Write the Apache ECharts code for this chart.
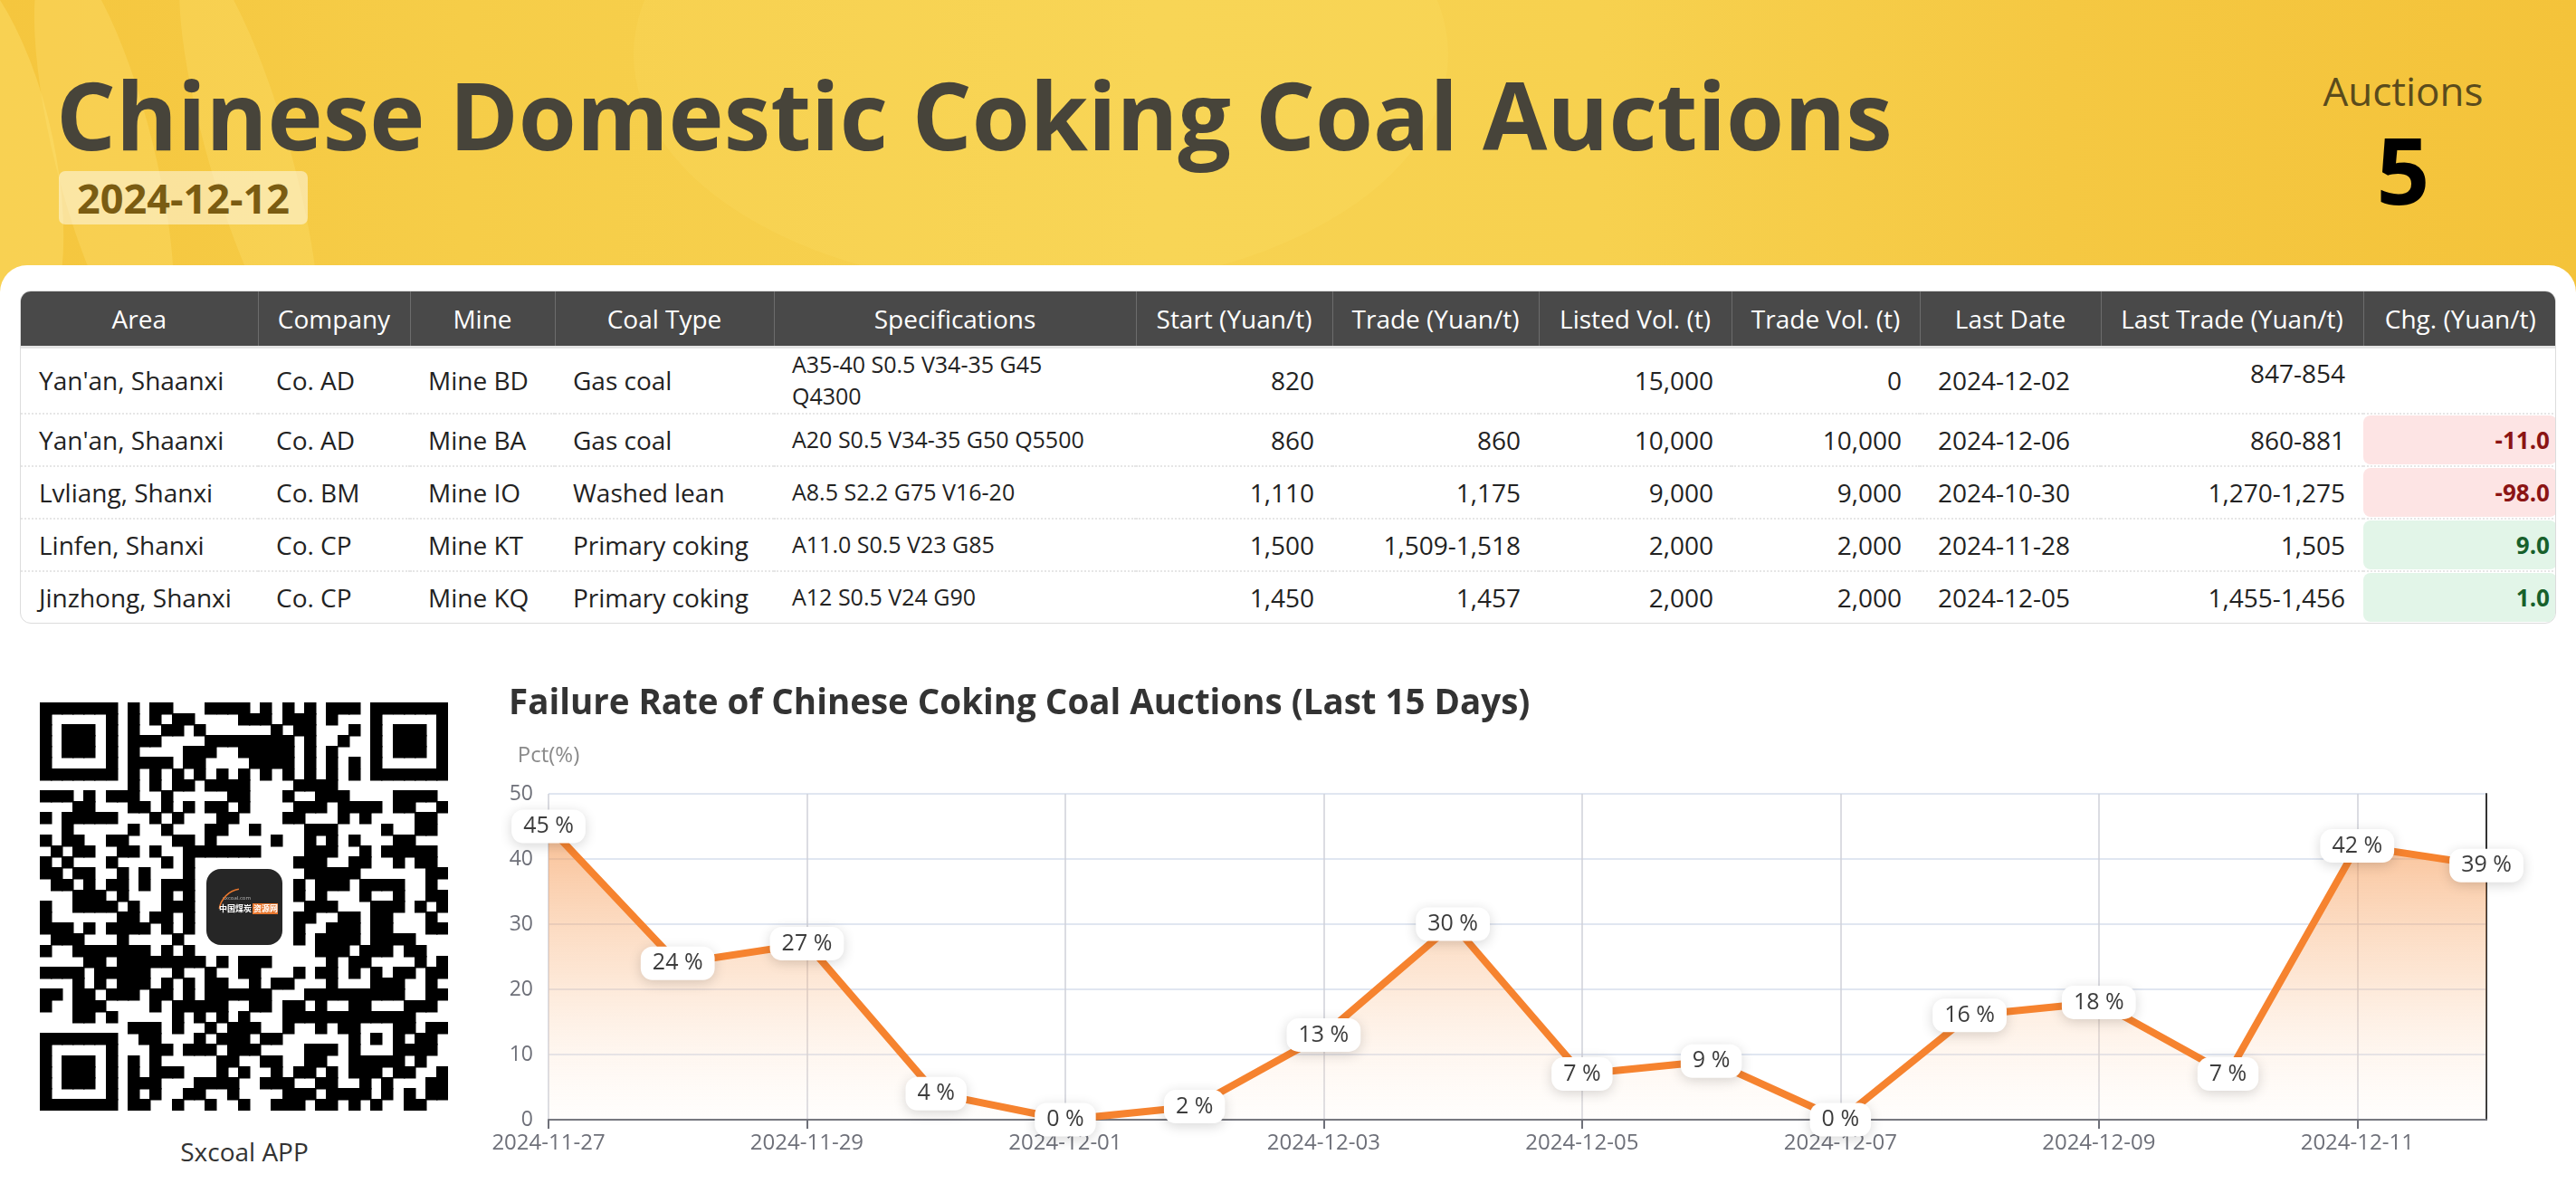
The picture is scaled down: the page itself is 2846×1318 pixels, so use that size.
<!DOCTYPE html>
<html>
<head>
<meta charset="utf-8">
<title>Chinese Domestic Coking Coal Auctions</title>
<script src="https://cdn.jsdelivr.net/npm/echarts/dist/echarts.min.js"></script>
<style>
  html, body { margin:0; padding:0; }
  body { width:2846px; height:1318px; position:relative; overflow:hidden; background:#fff;
         font-family:'Open Sans','Noto Sans',sans-serif; }
  #header { position:absolute; left:0; top:0; width:2846px; height:340px; overflow:hidden;
    background: linear-gradient(90deg, #f5c63e 0%, #f6cd48 18%, #f7d251 45%, #f7d14f 62%, #f5c842 80%, #f4c33a 100%); }
  .streak { position:absolute; top:-60px; height:460px; background:rgba(255,228,120,0.35); border-radius:50%; }
  #card { position:absolute; left:0; top:293px; width:2846px; height:1025px; background:#fff; border-radius:30px 30px 0 0; }
  #title { position:absolute; left:62px; top:74px; font-size:103.5px; font-weight:700; line-height:1; color:#47443a; white-space:nowrap; }
  #dateBadge { position:absolute; left:65px; top:189px; width:275px; height:59px; background:rgba(255,255,255,0.48);
    border-radius:7px; font-size:45px; font-weight:700; color:#7a5c12; line-height:59px; text-align:center; }
  #auctLabel { position:absolute; left:2555px; width:200px; top:78px; font-size:44px; line-height:1; color:#5a4b1c; text-align:center; }
  #auctNum { position:absolute; left:2555px; width:200px; top:135px; font-size:103px; font-weight:700; line-height:1; color:#000; text-align:center; }
  #tbl { position:absolute; left:22px; top:321px; width:2802px; border:1px solid #dcdcdc; border-radius:12px; overflow:hidden;
    box-sizing:border-box; }
  table { border-collapse:collapse; table-layout:fixed; width:100%; }
  th { background:#494949; color:#fff; font-weight:400; font-size:28px; height:60px; border-bottom:3px solid #e4e4e4;
       border-right:1px solid #6c6c6c; padding:0 6px; white-space:nowrap; text-align:center; }
  th:last-child { border-right:none; }
  td { font-size:28px; color:#222; padding:0 20px; white-space:nowrap; border-bottom:2px dotted #e6e6e6; position:relative; }
  tr:last-child td { border-bottom:none; }
  td.num { text-align:right; }
  td.spec { font-size:25px; line-height:35px; white-space:normal; }
  td.chg { padding:0; }
  .chgbox { position:absolute; left:0; right:0; top:1px; bottom:1px; border-radius:8px; font-weight:700; font-size:26px;
            display:flex; align-items:center; justify-content:flex-end; padding-right:8px; }
  .neg { background:#fde4e4; color:#8b1414; }
  .pos { background:#e2f5e8; color:#17602b; }
  #qr { position:absolute; left:44px; top:776px; }
  #qrLabel { position:absolute; left:120px; width:300px; top:1258px; font-size:28px; line-height:1; color:#333; text-align:center; }
  #chart { position:absolute; left:520px; top:730px; width:2326px; height:588px; }
</style>
</head>
<body>
<div id="header">
  <div class="streak" style="left:-120px; width:180px; transform:rotate(-12deg);"></div>
  <div class="streak" style="left:60px; width:110px; transform:rotate(-14deg); background:rgba(255,230,125,0.28);"></div>
  <div class="streak" style="left:230px; width:90px; transform:rotate(-16deg); background:rgba(255,230,125,0.25);"></div>
  <div class="streak" style="left:700px; top:-200px; width:900px; height:520px; background:rgba(255,225,110,0.18);"></div>
</div>
<div id="card"></div>
<div id="title">Chinese Domestic Coking Coal Auctions</div>
<div id="dateBadge"></div>
<div id="auctLabel">Auctions</div>
<div id="auctNum"></div>
<div id="tbl"><table id="auctionTable"></table></div>
<canvas id="qr" width="451" height="451"></canvas>
<div id="qrLabel">Sxcoal APP</div>
<div id="chart"></div>

<script>
// ---------------- DATA ----------------
const reportDate = '2024-12-12';
const auctionCount = 5;

const tableHeaders = ['Area','Company','Mine','Coal Type','Specifications','Start (Yuan/t)','Trade (Yuan/t)',
  'Listed Vol. (t)','Trade Vol. (t)','Last Date','Last Trade (Yuan/t)','Chg. (Yuan/t)'];
const areas      = ["Yan'an, Shaanxi","Yan'an, Shaanxi",'Lvliang, Shanxi','Linfen, Shanxi','Jinzhong, Shanxi'];
const companies  = ['Co. AD','Co. AD','Co. BM','Co. CP','Co. CP'];
const mines      = ['Mine BD','Mine BA','Mine IO','Mine KT','Mine KQ'];
const coalTypes  = ['Gas coal','Gas coal','Washed lean','Primary coking','Primary coking'];
const specs      = ['A35-40 S0.5 V34-35 G45|Q4300','A20 S0.5 V34-35 G50 Q5500','A8.5 S2.2 G75 V16-20','A11.0 S0.5 V23 G85','A12 S0.5 V24 G90'];
const startPrices= ['820','860','1,110','1,500','1,450'];
const tradePrices= ['','860','1,175','1,509-1,518','1,457'];
const listedVols = ['15,000','10,000','9,000','2,000','2,000'];
const tradeVols  = ['0','10,000','9,000','2,000','2,000'];
const lastDates  = ['2024-12-02','2024-12-06','2024-10-30','2024-11-28','2024-12-05'];
const lastTrades = ['847-854','860-881','1,270-1,275','1,505','1,455-1,456'];
const changes    = [null,-11.0,-98.0,9.0,1.0];

const dates = ['2024-11-27','2024-11-28','2024-11-29','2024-11-30','2024-12-01','2024-12-02','2024-12-03','2024-12-04',
               '2024-12-05','2024-12-06','2024-12-07','2024-12-08','2024-12-09','2024-12-10','2024-12-11','2024-12-12'];
const failureRate = [45,24,27,4,0,2,13,30,7,9,0,16,18,7,42,39];

// ---------------- HEADER ----------------
document.getElementById('dateBadge').textContent = reportDate;
document.getElementById('auctNum').textContent = String(auctionCount);

// ---------------- TABLE ----------------
const colWidths = [262,168,160,242,400,217,228,213,208,200,290,214];
const rowHeights = [73,58,58,58,57];
const tbl = document.getElementById('auctionTable');
let html = '<colgroup>' + colWidths.map(w => '<col style="width:' + w + 'px">').join('') + '</colgroup>';
html += '<tr>' + tableHeaders.map(h => '<th>' + h + '</th>').join('') + '</tr>';
for (let i = 0; i < areas.length; i++) {
  const h = rowHeights[i];
  const ch = changes[i];
  let chgHtml = '';
  if (ch !== null) {
    chgHtml = '<div class="chgbox ' + (ch < 0 ? 'neg' : 'pos') + '">' + ch.toFixed(1) + '</div>';
  }
  const lt = i === 0 ? '<span style="position:relative; top:-8px;">' + lastTrades[i] + '</span>' : lastTrades[i];
  html += '<tr style="height:' + h + 'px">' +
    '<td>' + areas[i] + '</td>' +
    '<td>' + companies[i] + '</td>' +
    '<td>' + mines[i] + '</td>' +
    '<td>' + coalTypes[i] + '</td>' +
    '<td class="spec">' + specs[i].split('|').join('<br>') + '</td>' +
    '<td class="num">' + startPrices[i] + '</td>' +
    '<td class="num">' + tradePrices[i] + '</td>' +
    '<td class="num">' + listedVols[i] + '</td>' +
    '<td class="num">' + tradeVols[i] + '</td>' +
    '<td>' + lastDates[i] + '</td>' +
    '<td class="num">' + lt + '</td>' +
    '<td class="chg">' + chgHtml + '</td>' +
    '</tr>';
}
tbl.innerHTML = html;

// ---------------- QR (decorative) ----------------
(function drawQR() {
  const cv = document.getElementById('qr');
  const ctx = cv.getContext('2d');
  const N = 37, S = 451 / N;
  ctx.fillStyle = '#fff'; ctx.fillRect(0, 0, 451, 451);
  function hashBit(r, c) {
    let x = (r * 73856093) ^ (c * 19349663) ^ 0x5bd1e995;
    x = Math.imul(x ^ (x >>> 13), 1274126177);
    x ^= x >>> 16;
    return ((x >>> 7) & 3) < 2;
  }
  function finder(r0, c0, r, c) {
    const dr = r - r0, dc = c - c0;
    if (dr < -1 || dr > 7 || dc < -1 || dc > 7) return null;
    if (dr === -1 || dr === 7 || dc === -1 || dc === 7) return false;
    if (dr === 0 || dr === 6 || dc === 0 || dc === 6) return true;
    if (dr === 1 || dr === 5 || dc === 1 || dc === 5) return false;
    return true;
  }
  ctx.fillStyle = '#000';
  for (let r = 0; r < N; r++) {
    for (let c = 0; c < N; c++) {
      let v = null;
      for (const [fr, fc] of [[0,0],[0,30],[30,0]]) {
        const f = finder(fr, fc, r, c);
        if (f !== null) { v = f; break; }
      }
      if (v === null) {
        const ar = r - 28, ac = c - 28;
        if (ar >= 0 && ar <= 4 && ac >= 0 && ac <= 4) {
          v = (ar === 0 || ar === 4 || ac === 0 || ac === 4 || (ar === 2 && ac === 2));
        }
      }
      if (v === null && r >= 14 && r <= 22 && c >= 14 && c <= 22) v = false;
      if (v === null && r === 6) v = (c % 2 === 0);
      if (v === null && c === 6) v = (r % 2 === 0);
      if (v === null) v = hashBit(r, c);
      if (v) ctx.fillRect(Math.floor(c * S), Math.floor(r * S), Math.ceil(S) + 0.5, Math.ceil(S) + 0.5);
    }
  }
  // center logo
  const lx = 184, ly = 184, lw = 84;
  ctx.fillStyle = '#262626';
  ctx.beginPath();
  ctx.moveTo(lx + 16, ly); ctx.arcTo(lx + lw, ly, lx + lw, ly + lw, 16); ctx.arcTo(lx + lw, ly + lw, lx, ly + lw, 16);
  ctx.arcTo(lx, ly + lw, lx, ly, 16); ctx.arcTo(lx, ly, lx + lw, ly, 16); ctx.closePath(); ctx.fill();
  ctx.fillStyle = '#bbb'; ctx.font = '6px "Open Sans"'; ctx.fillText('sxcoal.com', lx + 18, ly + 34);
  ctx.strokeStyle = '#e8772e'; ctx.lineWidth = 1.5;
  ctx.beginPath(); ctx.arc(lx + 40, ly + 48, 26, Math.PI * 1.05, Math.PI * 1.45); ctx.stroke();
  ctx.fillStyle = '#fff'; ctx.font = 'bold 9px "Noto Sans CJK SC"'; ctx.fillText('中国煤炭', lx + 14, ly + 47);
  ctx.fillStyle = '#e8772e'; ctx.fillRect(lx + 51, ly + 38, 28, 12);
  ctx.fillStyle = '#fff'; ctx.fillText('资源网', lx + 52, ly + 47);
})();

// ---------------- CHART ----------------
const chart = echarts.init(document.getElementById('chart'), null, { renderer: 'canvas' });
const FONT = "'Open Sans','Noto Sans',sans-serif";
chart.setOption({
  animation: false,
  textStyle: { fontFamily: FONT },
  title: {
    text: 'Failure Rate of Chinese Coking Coal Auctions (Last 15 Days)',
    left: 37, top: 24,
    textStyle: { fontFamily: FONT, fontSize: 38.5, fontWeight: 'bold', color: '#333' }
  },
  grid: { left: 86, right: 99, top: 147, bottom: 81, containLabel: false },
  xAxis: {
    type: 'category', data: dates, boundaryGap: false,
    axisLine: { show: true, lineStyle: { color: '#6e7079', width: 2 } },
    axisTick: { show: true, interval: 1, length: 10, lineStyle: { color: '#6e7079', width: 2 } },
    axisLabel: { interval: 1, color: '#6e7079', fontSize: 24, margin: 14, fontFamily: FONT },
    splitLine: { show: true, interval: 1, lineStyle: { color: '#cfd1d8', width: 1.5 } }
  },
  yAxis: [{
    type: 'value', min: 0, max: 50, interval: 10,
    name: 'Pct(%)', nameLocation: 'end', nameGap: 30,
    nameTextStyle: { color: '#8a8a8a', fontSize: 24, fontFamily: FONT, align: 'center' },
    axisLine: { show: false }, axisTick: { show: false },
    axisLabel: { color: '#6e7079', fontSize: 23, margin: 17, fontFamily: FONT },
    splitLine: { show: true, lineStyle: { color: '#e0e6f1', width: 2 } }
  }, {
    type: 'value', min: 0, max: 50, interval: 10, position: 'right',
    axisLine: { show: true, lineStyle: { color: '#333', width: 2 } },
    axisTick: { show: false }, axisLabel: { show: false }, splitLine: { show: false }
  }],
  series: [{
    type: 'line', data: failureRate, yAxisIndex: 0,
    symbol: 'circle', symbolSize: 8, showSymbol: true,
    lineStyle: { color: '#f6832f', width: 8 },
    itemStyle: { color: '#f6832f' },
    areaStyle: {
      color: new echarts.graphic.LinearGradient(0, 0, 0, 1, [
        { offset: 0, color: 'rgba(244,140,62,0.8)' },
        { offset: 0.5, color: 'rgba(249,180,125,0.48)' },
        { offset: 1, color: 'rgba(255,240,226,0.15)' }
      ])
    },
    label: {
      show: true, position: 'inside', formatter: '{c} %',
      color: '#3c3c3c', fontSize: 25, fontFamily: FONT,
      backgroundColor: '#fff', borderRadius: 13, padding: [6, 13],
      shadowBlur: 14, shadowColor: 'rgba(0,0,0,0.16)', shadowOffsetY: 3
    },
    z: 3
  }]
});
</script>
</body>
</html>
